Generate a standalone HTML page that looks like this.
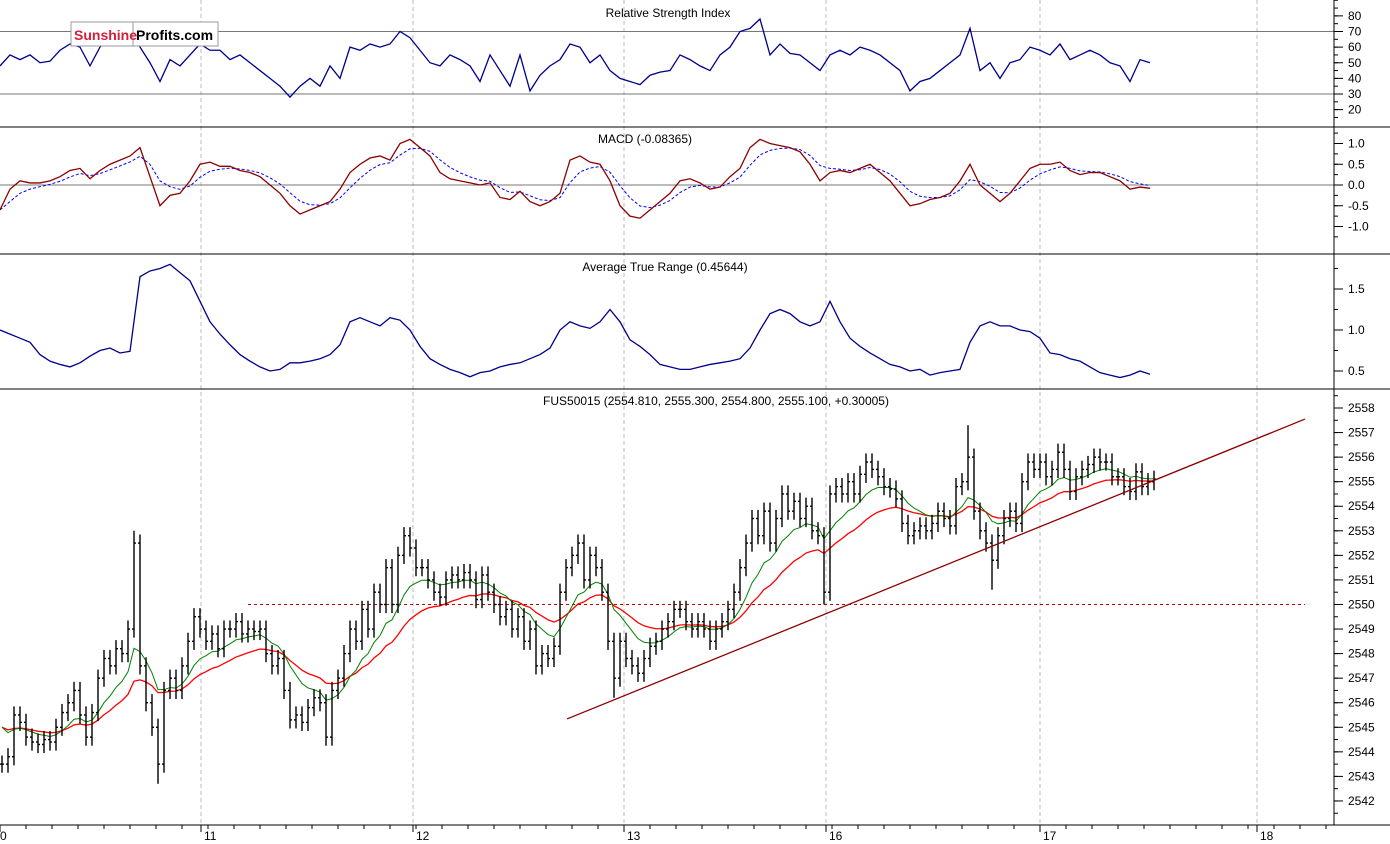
<!DOCTYPE html>
<html><head><meta charset="utf-8"><style>
body{margin:0;background:#fff}svg{display:block;font-family:"Liberation Sans",sans-serif}
</style></head><body>
<svg id="c" width="1390" height="844" xmlns="http://www.w3.org/2000/svg">
<rect width="1390" height="844" fill="#fff"/>
<g id="grid"></g>
<g id="rsi"></g>
<g id="macd"></g>
<g id="atr"></g>
<g id="price"></g>
<g id="axes"></g>
<g>
<rect x="71" y="22" width="147" height="24" fill="#fff" stroke="#999"/>
<line x1="133" y1="22" x2="133" y2="46" stroke="#999"/>
<text x="74" y="40" font-size="14" font-weight="bold" fill="#d0203a">Sunshine</text>
<text x="136" y="40" font-size="14" font-weight="bold" fill="#000">Profits.com</text>
</g>
</svg>
<script>
const closes=[2543.5,2543.8,2545.5,2545.2,2544.6,2544.4,2544.3,2544.5,2544.4,2545.0,2545.6,2546.0,2546.5,2545.5,2544.6,2545.6,2547.0,2547.8,2547.5,2548.2,2548.0,2549.0,2552.5,2547.5,2546.0,2545.0,2543.5,2546.5,2547.0,2546.5,2547.5,2548.5,2549.5,2549.0,2548.5,2548.8,2548.2,2549.0,2549.0,2549.3,2548.8,2549.0,2548.9,2549.0,2548.0,2547.5,2547.8,2546.5,2545.3,2545.5,2545.2,2545.8,2546.2,2546.0,2544.6,2546.5,2547.0,2548.0,2549.0,2548.5,2549.8,2549.0,2550.5,2550.0,2551.5,2550.0,2552.0,2552.8,2552.3,2551.5,2551.5,2551.0,2550.5,2550.3,2551.0,2551.2,2551.0,2551.3,2551.0,2550.2,2551.2,2550.5,2550.0,2549.5,2549.8,2549.0,2549.5,2548.5,2549.0,2547.5,2548.0,2547.8,2548.3,2550.5,2551.5,2552.0,2552.5,2551.0,2552.0,2551.5,2550.5,2548.5,2547.0,2548.5,2547.8,2547.5,2547.2,2547.8,2548.3,2548.5,2549.0,2549.3,2549.8,2549.8,2549.3,2549.0,2549.3,2549.0,2548.5,2549.0,2549.3,2549.8,2550.5,2551.5,2552.5,2553.5,2552.8,2553.8,2552.5,2553.5,2554.5,2553.8,2554.2,2553.5,2554.0,2553.0,2552.8,2550.5,2554.5,2554.8,2554.5,2555.0,2554.5,2555.3,2555.8,2555.5,2555.2,2554.8,2554.7,2554.3,2553.3,2552.8,2553.0,2553.2,2553.0,2553.3,2553.8,2553.5,2553.2,2554.8,2555.0,2556.0,2553.8,2553.0,2552.5,2551.8,2552.8,2553.5,2553.8,2553.3,2555.0,2555.8,2555.5,2555.8,2555.2,2555.5,2556.2,2555.5,2554.6,2555.2,2555.5,2555.7,2556.0,2555.8,2555.8,2555.2,2555.2,2554.8,2554.6,2555.4,2554.8,2555.0,2555.1];
const spikeIdx=[22,26,102,137,161,165];
const spikeVal=[2553.0,2542.7,2546.2,2550.0,2557.3,2550.6];
const rsiVals=[48,55,52,55,50,51,58,62,60,48,60,68,65,75,60,50,38,52,48,55,62,58,58,52,55,50,45,40,35,28,35,40,35,48,40,60,58,62,60,62,70,66,58,50,48,55,52,48,38,55,45,35,55,32,42,48,52,62,60,50,55,45,40,38,36,42,44,45,55,52,48,45,55,60,70,72,78,55,62,56,55,50,45,55,58,55,60,58,55,50,45,32,38,40,45,50,55,72,45,50,40,50,52,60,58,55,62,52,55,58,55,50,48,38,52,50];
const macdVals=[-0.6,-0.1,0.1,0.05,0.05,0.1,0.2,0.35,0.4,0.15,0.35,0.5,0.6,0.7,0.9,0.2,-0.5,-0.25,-0.2,0.1,0.5,0.55,0.45,0.45,0.35,0.3,0.2,0.0,-0.2,-0.5,-0.7,-0.6,-0.5,-0.4,-0.1,0.3,0.5,0.65,0.7,0.6,1.0,1.1,0.9,0.7,0.3,0.15,0.1,0.05,0.0,0.05,-0.3,-0.35,-0.15,-0.4,-0.5,-0.4,-0.2,0.6,0.7,0.55,0.5,0.1,-0.5,-0.75,-0.8,-0.6,-0.4,-0.2,0.1,0.15,0.05,-0.1,-0.05,0.2,0.4,0.9,1.1,1.0,0.95,0.9,0.8,0.5,0.1,0.3,0.35,0.3,0.4,0.5,0.3,0.1,-0.2,-0.5,-0.45,-0.35,-0.3,-0.2,0.1,0.5,0.0,-0.2,-0.4,-0.2,0.1,0.4,0.5,0.5,0.55,0.35,0.25,0.3,0.3,0.2,0.1,-0.1,-0.05,-0.08];
const atrVals=[1.0,0.95,0.9,0.85,0.7,0.62,0.58,0.55,0.6,0.68,0.75,0.78,0.72,0.74,1.65,1.72,1.75,1.8,1.7,1.6,1.35,1.1,0.95,0.82,0.7,0.62,0.55,0.5,0.52,0.6,0.6,0.62,0.65,0.7,0.82,1.1,1.15,1.1,1.05,1.15,1.12,1.0,0.8,0.65,0.58,0.52,0.48,0.43,0.48,0.5,0.55,0.58,0.6,0.65,0.7,0.78,1.0,1.1,1.05,1.02,1.1,1.25,1.1,0.88,0.8,0.7,0.58,0.55,0.52,0.52,0.55,0.58,0.6,0.62,0.65,0.78,1.0,1.2,1.25,1.2,1.1,1.05,1.1,1.35,1.1,0.9,0.8,0.72,0.65,0.58,0.55,0.5,0.52,0.45,0.48,0.5,0.52,0.85,1.05,1.1,1.05,1.05,1.0,0.98,0.9,0.72,0.7,0.65,0.62,0.55,0.48,0.45,0.42,0.45,0.5,0.46];
const priceTicks=[2542,2543,2544,2545,2546,2547,2548,2549,2550,2551,2552,2553,2554,2555,2556,2557,2558];
const rsiTicks=[20,30,40,50,60,70,80];
const macdTicks=[-1.0,-0.5,0.0,0.5,1.0];
const atrTicks=[0.5,1.0,1.5];
const dayLabels=["0","11","12","13","16","17","18"];
const dayPos=[0,201,413,624,826,1040,1257];
const trendStart=[567,2545.34], trendEnd=[1305,2557.55];
const supportLevel=2550;

const NS="http://www.w3.org/2000/svg";
function mk(p,t,a){const e=document.createElementNS(NS,t);for(const k in a)e.setAttribute(k,a[k]);p.appendChild(e);return e;}
const yP=v=>408+(2558-v)*24.56;
const yR=v=>31.5+(70-v)*1.5625;
const yM=v=>185-v*41.5;
const yA=v=>330-(v-1)*82;
const xB=i=>2+6*i;
const xI=i=>i*10;
const AX=1334;
const G=document.getElementById('grid'),AXG=document.getElementById('axes');
dayPos.forEach((x,i)=>{if(i==0)return;
 const l=mk(G,'line',{x1:x,y1:0,x2:x,y2:825,stroke:'#bbb','stroke-dasharray':'4,3'});
 });
[127,254,389,825].forEach(y=>{const l=mk(AXG,'line',{x1:0,y1:y,x2:1390,y2:y,stroke:'#000'});
 });
mk(AXG,'line',{x1:AX,y1:0,x2:AX,y2:825,stroke:'#000'});
function ticks(arr,fy,dec,top,bot){arr.forEach(v=>{const y=fy(v);
 mk(AXG,'line',{x1:AX,y1:y,x2:AX+9,y2:y,stroke:'#000'});
 const t=mk(AXG,'text',{x:AX+14,y:y+4,'font-size':12,fill:'#000'});t.textContent=v.toFixed(dec);
 });
 for(let y=fy(arr[0])+(fy(arr[0])-fy(arr[1]))/2;y>top;y-=(fy(arr[0])-fy(arr[1]))/2){if(y<bot)mk(AXG,'line',{x1:AX,y1:y,x2:AX+4,y2:y,stroke:'#000'});}}
ticks(priceTicks,yP,0,389,825);ticks(rsiTicks,yR,0,0,127);ticks(macdTicks,yM,1,127,254);ticks(atrTicks,yA,1,254,389);
dayLabels.forEach((s,i)=>{const t=mk(AXG,'text',{x:dayPos[i]+(i?3:0),y:840,'font-size':12,fill:'#000'});t.textContent=s;
 
 mk(AXG,'line',{x1:dayPos[i],y1:825,x2:dayPos[i],y2:832,stroke:'#000'});});
for(let x=0;x<AX;x+=26)mk(AXG,'line',{x1:x,y1:825,x2:x,y2:829,stroke:'#000'});
function title(g,x,y,s,n){const t=mk(g,'text',{x:x,y:y,'font-size':12,'text-anchor':'middle',fill:'#000'});t.textContent=s;
 }
const R=document.getElementById('rsi');
[70,30].forEach(v=>mk(R,'line',{x1:0,y1:yR(v),x2:AX,y2:yR(v),stroke:'#777'}));
title(R,668,17,'Relative Strength Index','rsi-title');
let l=mk(R,'polyline',{points:rsiVals.map((v,i)=>xI(i)+','+yR(v)).join(' '),fill:'none',stroke:'#00008b','stroke-width':1.3});

const M=document.getElementById('macd');
mk(M,'line',{x1:0,y1:yM(0),x2:AX,y2:yM(0),stroke:'#777'});
title(M,645,143,'MACD (-0.08365)','macd-title');
const sig=[];macdVals.forEach((v,i)=>sig.push(i?sig[i-1]+(v-sig[i-1])*0.4:v));
l=mk(M,'polyline',{points:sig.map((v,i)=>xI(i)+','+yM(v)).join(' '),fill:'none',stroke:'#0000ff','stroke-dasharray':'3,2'});

l=mk(M,'polyline',{points:macdVals.map((v,i)=>xI(i)+','+yM(v)).join(' '),fill:'none',stroke:'#8b0000','stroke-width':1.3});

const A=document.getElementById('atr');
title(A,665,271,'Average True Range (0.45644)','atr-title');
l=mk(A,'polyline',{points:atrVals.map((v,i)=>xI(i)+','+yA(v)).join(' '),fill:'none',stroke:'#00008b','stroke-width':1.3});

const P=document.getElementById('price');
title(P,716,405,'FUS50015 (2554.810, 2555.300, 2554.800, 2555.100, +0.30005)','price-title');
l=mk(P,'line',{x1:248,y1:yP(supportLevel),x2:1305,y2:yP(supportLevel),stroke:'#c00000','stroke-dasharray':'3,3'});

function ema(n){const a=2/(n+1),o=[];closes.forEach((c,i)=>o.push(i?o[i-1]+(c-o[i-1])*a:c+1.5));return o;}
l=mk(P,'polyline',{points:ema(22).map((v,i)=>xB(i)+','+yP(v)).join(' '),fill:'none',stroke:'#ff0000','stroke-width':1.3});

l=mk(P,'polyline',{points:ema(10).map((v,i)=>xB(i)+','+yP(v)).join(' '),fill:'none',stroke:'#008000'});

closes.forEach((c,i)=>{const o=i?closes[i-1]:c;let hi=Math.max(o,c)+0.35,lo=Math.min(o,c)-0.35;
 const k=spikeIdx.indexOf(i);if(k>=0){hi=Math.max(hi,spikeVal[k]);lo=Math.min(lo,spikeVal[k]);}
 const x=xB(i),g=mk(P,'g',{stroke:'#000','stroke-width':1.4});
 
 mk(g,'line',{x1:x,y1:yP(hi),x2:x,y2:yP(lo)});
 mk(g,'line',{x1:x-2,y1:yP(o),x2:x,y2:yP(o)});
 mk(g,'line',{x1:x,y1:yP(c),x2:x+2,y2:yP(c)});});
l=mk(P,'line',{x1:trendStart[0],y1:yP(trendStart[1]),x2:trendEnd[0],y2:yP(trendEnd[1]),stroke:'#8b0000','stroke-width':1.3});

</script>
</body></html>
